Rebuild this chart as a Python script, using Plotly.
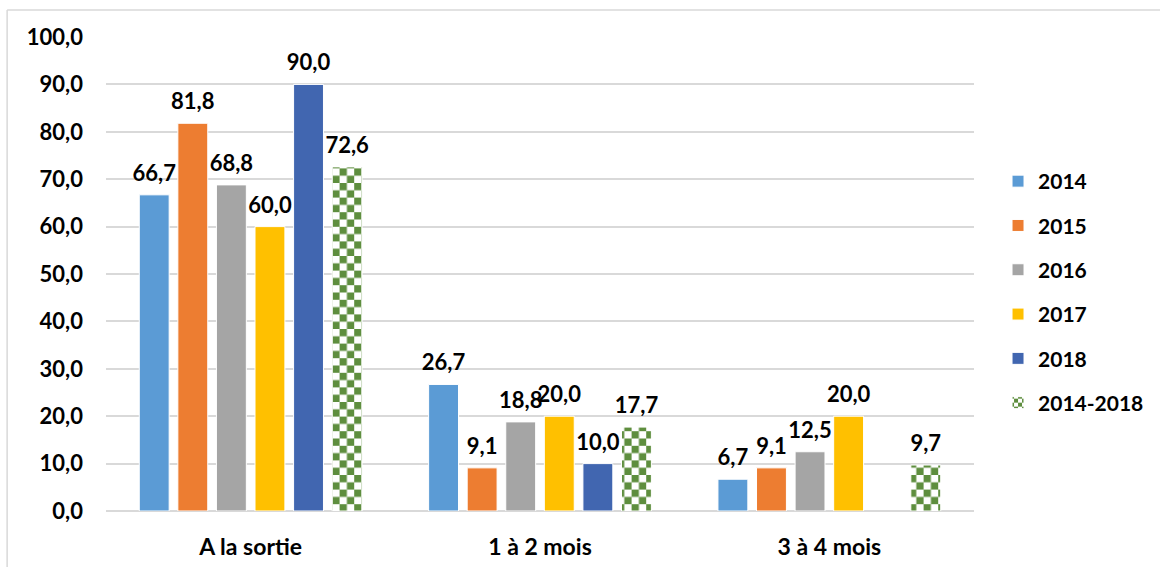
import plotly.graph_objects as go

categories = ["A la sortie", "1 à 2 mois", "3 à 4 mois"]
series_names = ["2014", "2015", "2016", "2017", "2018", "2014-2018"]
v2014 = [66.7, 26.7, 6.7]
v2015 = [81.8, 9.1, 9.1]
v2016 = [68.8, 18.8, 12.5]
v2017 = [60.0, 20.0, 20.0]
v2018 = [90.0, 10.0, None]
v2014_2018 = [72.6, 17.7, 9.7]
y_ticks = [0, 10, 20, 30, 40, 50, 60, 70, 80, 90, 100]

values = [v2014, v2015, v2016, v2017, v2018, v2014_2018]
colors = ["#5B9BD5", "#ED7D31", "#A5A5A5", "#FFC000", "#4166B0", "#5E8E3E"]

FONT = "Lato"
FS = 22

def fmt(v):
    return "" if v is None else f"{v:.1f}".replace(".", ",")

fig = go.Figure()
for i, (name, vals, col) in enumerate(zip(series_names, values, colors)):
    marker = dict(color=col, line=dict(color="white", width=1))
    if name == "2014-2018":
        marker = dict(color="white", line=dict(color="white", width=1),
                      pattern=dict(shape="+", fgcolor=col, bgcolor="white",
                                   size=14, solidity=0.5, fillmode="replace"))
    fig.add_trace(go.Bar(
        name=name, x=categories, y=vals, marker=marker,
        legendgroup=name, hoverinfo="skip",
    ))

# value labels: grouped text-only scatter traces aligned with the bars
for name, vals in zip(series_names, values):
    fig.add_trace(go.Scatter(
        x=categories, y=vals, mode="markers+text",
        text=[fmt(v) for v in vals], textposition="top center",
        textfont=dict(family=FONT, size=FS, color="#000000", weight="bold"),
        marker=dict(size=12, opacity=0),
        showlegend=False, hoverinfo="skip", cliponaxis=False,
    ))

fig.update_layout(
    width=1160, height=567,
    margin=dict(l=106, r=185, t=37, b=56),
    paper_bgcolor="white", plot_bgcolor="white",
    barmode="group", bargap=0.2, bargroupgap=0.225,
    scattermode="group", scattergap=0.2,
    font=dict(family=FONT, size=FS, color="#000000", weight="bold"),
    showlegend=True,
    legend=dict(x=1.0265, xanchor="left", y=0.462, yanchor="middle",
                traceorder="grouped", tracegroupgap=14,
                font=dict(family=FONT, size=FS - 1, color="#000000", weight="bold"),
                bgcolor="rgba(0,0,0,0)"),
    xaxis=dict(range=[-0.5, 2.5], autorange=False, automargin=False,
               showgrid=False, showline=False, ticks="", ticklabelstandoff=20,
               tickfont=dict(family=FONT, size=FS + 1, color="#000000", weight="bold")),
    yaxis=dict(range=[0, 100], autorange=False, automargin=False, tickvals=y_ticks,
               ticktext=[fmt(float(t)) for t in y_ticks],
               showgrid=True, gridcolor="#D9D9D9", gridwidth=2,
               zeroline=True, zerolinecolor="#D9D9D9", zerolinewidth=2,
               showline=False, ticks="", ticklabelstandoff=22,
               tickfont=dict(family=FONT, size=FS, color="#000000", weight="bold")),
    shapes=[
        dict(type="line", xref="paper", yref="paper", x0=-0.1139, x1=1.3,
             y0=1.057, y1=1.057, line=dict(color="#D9D9D9", width=1.5)),
        dict(type="line", xref="paper", yref="paper", x0=-0.1139, x1=-0.1139,
             y0=1.057, y1=-0.2, line=dict(color="#D9D9D9", width=1.5)),
    ],
)

post = """
document.body.style.margin = '0';
document.body.style.padding = '0';
var gd = document.getElementById('{plot_id}');
function checker(){
  var ns = 'http://www.w3.org/2000/svg';
  var G = '#5E8E3E';
  gd.querySelectorAll('pattern').forEach(function(p){
    var s = (p.id && p.id.indexOf('legend') >= 0) ? 4 : 7.3;
    p.setAttribute('width', 2*s); p.setAttribute('height', 2*s);
    p.removeAttribute('patternTransform');
    while (p.firstChild) p.removeChild(p.firstChild);
    function r(x, y, w, h, c){
      var e = document.createElementNS(ns, 'rect');
      e.setAttribute('x', x); e.setAttribute('y', y);
      e.setAttribute('width', w); e.setAttribute('height', h);
      e.setAttribute('fill', c); p.appendChild(e);
    }
    r(0, 0, 2*s, 2*s, '#ffffff');
    r(0, 0, s, s, G);
    r(s, s, s, s, G);
  });
}
checker();
"""

fig.write_html("out.html", post_script=post, config={"displayModeBar": False})
